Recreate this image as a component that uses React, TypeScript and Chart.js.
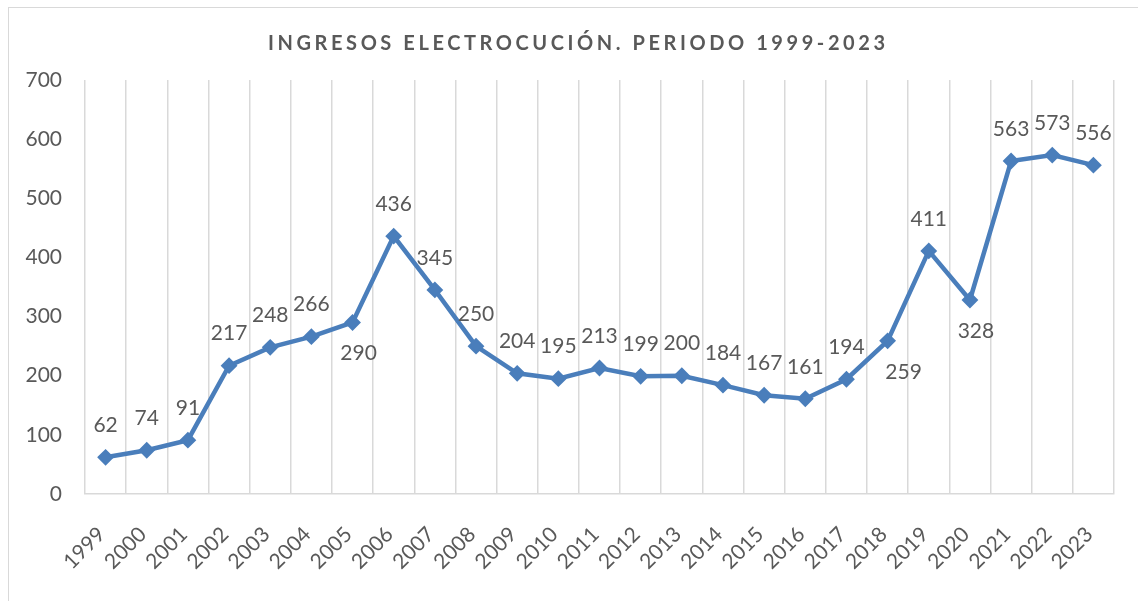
import React, { useEffect, useRef } from 'react';
import { Chart, registerables } from 'chart.js';

Chart.register(...registerables);

const chartTitle = 'INGRESOS ELECTROCUCIÓN. PERIODO 1999-2023';
const years = [
  '1999', '2000', '2001', '2002', '2003', '2004', '2005', '2006', '2007',
  '2008', '2009', '2010', '2011', '2012', '2013', '2014', '2015', '2016',
  '2017', '2018', '2019', '2020', '2021', '2022', '2023',
];
const ingresos = [
  62, 74, 91, 217, 248, 266, 290, 436, 345, 250, 204, 195, 213, 199, 200,
  184, 167, 161, 194, 259, 411, 328, 563, 573, 556,
];
const yMin = 0;
const yMax = 700;
const yStep = 100;
const labelsBelow = ['2005', '2018', '2020'];

const TEXT = '#595959';
const GRID = '#d9d9d9';
const LINE = '#4A7EBB';
const FONT = 'Lato, "Open Sans", sans-serif';

const titlePlugin = {
  id: 'spacedTitle',
  afterDraw(chart: any) {
    const ctx = chart.ctx;
    ctx.save();
    ctx.font = `bold 20px ${FONT}`;
    (ctx as any).letterSpacing = '0px';
    const plain = ctx.measureText(chartTitle).width;
    const targetWidth = 617;
    const n = Array.from(chartTitle).length;
    const ls = Math.max(0, (targetWidth - plain) / (n - 1));
    (ctx as any).letterSpacing = `${ls}px`;
    ctx.fillStyle = TEXT;
    ctx.textAlign = 'left';
    ctx.textBaseline = 'alphabetic';
    ctx.fillText(chartTitle, 268, 50);
    ctx.restore();
  },
};

const xLabelShiftPlugin = {
  id: 'xLabelShift',
  beforeDraw(chart: any) {
    const xs = chart.scales.x;
    if (xs && !xs.__patched) {
      const orig = xs.drawLabels;
      xs.drawLabels = function (area: any) {
        const ctx = this.ctx;
        ctx.save();
        ctx.translate(-4, 0);
        orig.call(this, area);
        ctx.restore();
      };
      xs.__patched = true;
    }
  },
};

const valueLabelPlugin = {
  id: 'valueLabels',
  afterDatasetsDraw(chart: any) {
    const ctx = chart.ctx;
    const meta = chart.getDatasetMeta(0);
    const labels = chart.data.labels as string[];
    ctx.save();
    ctx.font = `21px ${FONT}`;
    ctx.fillStyle = TEXT;
    ctx.textAlign = 'center';
    ctx.textBaseline = 'middle';
    meta.data.forEach((pt: any, i: number) => {
      const v = chart.data.datasets[0].data[i];
      const below = labelsBelow.includes(labels[i]);
      const dy = below ? 31 : -32;
      const dx = labels[i] === '2018' ? 16 : below ? 6 : 0;
      ctx.fillText(String(v), pt.x + dx, pt.y + dy);
    });
    ctx.restore();
  },
};

export default function App() {
  const ref = useRef<HTMLCanvasElement | null>(null);

  useEffect(() => {
    if (!ref.current) return;
    const chart = new Chart(ref.current, {
      type: 'line',
      data: {
        labels: years,
        datasets: [
          {
            data: ingresos,
            borderColor: LINE,
            backgroundColor: LINE,
            borderWidth: 4.5,
            pointStyle: 'rectRot',
            pointRadius: 7,
            pointBorderWidth: 2,
            pointBorderColor: LINE,
            pointBackgroundColor: LINE,
            tension: 0,
          },
        ],
      },
      options: {
        responsive: false,
        animation: false,
        layout: { padding: { top: 80, right: 24, left: 0, bottom: 0 } },
        plugins: {
          legend: { display: false },
          title: { display: false },
          tooltip: { enabled: false },
        },
        scales: {
          x: {
            offset: true,
            grid: { offset: true, color: GRID, lineWidth: 1.5, drawTicks: false },
            border: { display: true, color: GRID, width: 1.5 },
            ticks: {
              color: TEXT,
              font: { family: FONT, size: 21 },
              minRotation: 45,
              maxRotation: 45,
              autoSkip: false,
              padding: 28,
            },
            afterFit: (s: any) => {
              s.height = 107;
              s.paddingLeft = 0;
              s.paddingRight = 0;
            },
          },
          y: {
            min: yMin,
            max: yMax,
            ticks: {
              stepSize: yStep,
              color: TEXT,
              font: { family: FONT, size: 21 },
              padding: 23,
            },
            grid: { display: false, drawTicks: false },
            border: { display: false },
            afterFit: (s: any) => {
              s.width = 85;
            },
          },
        },
      },
      plugins: [titlePlugin, xLabelShiftPlugin, valueLabelPlugin],
    });
    return () => chart.destroy();
  }, []);

  return (
    <div
      style={{
        position: 'absolute',
        left: 0,
        top: 0,
        width: 1138,
        height: 601,
        overflow: 'hidden',
        background: '#fff',
      }}
    >
      <div
        style={{
          position: 'absolute',
          left: 8,
          top: 7,
          width: 1200,
          height: 700,
          border: `1px solid ${GRID}`,
          boxSizing: 'border-box',
        }}
      />
      <canvas
        ref={ref}
        width={1138}
        height={601}
        style={{ position: 'absolute', left: 0, top: 0, width: 1138, height: 601 }}
      />
    </div>
  );
}
